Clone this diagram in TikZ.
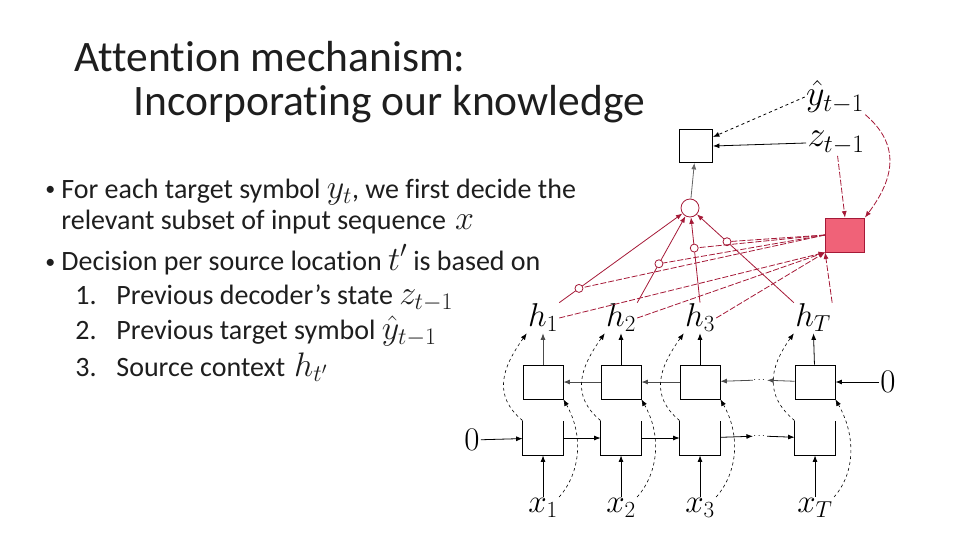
\documentclass[tikz,border=0pt]{standalone}
\usepackage{fix-cm}
\usepackage{amsmath}
\usepackage{fontspec}
\setmainfont{Carlito}[Ligatures = NoCommon]
\usetikzlibrary{arrows.meta}

\definecolor{attnred}{RGB}{165,25,55}
\definecolor{attnfill}{RGB}{240,98,120}
\definecolor{ink}{RGB}{30,30,30}

\newcommand{\inmath}[1]{{\fontsize{34}{34}\selectfont$#1$}}

\begin{document}
\begin{tikzpicture}[
    x = 1pt, y = -1pt,
    >= {Latex[length = 6.5pt, width = 5pt]},
    line width = 0.8pt,
    %
    heading/.style = {anchor = base west, inner sep = 0pt,
      text = ink, font = \fontsize{43.5}{43.5}\selectfont},
    slide/.style = {anchor = base west, inner sep = 0pt,
      text = ink, font = \fontsize{28}{28}\selectfont},
    bulletmark/.style = {anchor = base west, inner sep = 0pt,
      text = ink, font = \fontsize{20}{20}\selectfont},
    %
    sym/.style = {inner sep = 1pt,
      font = \fontsize{33}{33}\selectfont},
    bigsym/.style = {inner sep = 1pt,
      font = \fontsize{36}{36}\selectfont},
    cell/.style = {minimum width = 40pt,
      minimum height = 34pt, inner sep = 0pt},
    gate/.style = {circle, draw = attnred, fill = white,
      minimum size = 8pt, inner sep = 0pt},
    %
    attn/.style = {attnred},
    attndash/.style = {attnred, dash pattern = on 6pt off 2pt},
    recur/.style = {dashed, line width = 0.6pt},
    ]

    \useasboundingbox (0, 0) rectangle (960, 540);

    % title and bullet text
    \node at (74, 72) [heading, name = title1] {Attention mechanism:};
    \node at (133, 116) [heading, name = title2] {Incorporating our knowledge};

    \node at (45, 196) [bulletmark, name = dot1] {\textbullet};
    \node at (61, 198) [slide, name = line1]
    {For each target symbol \inmath{y_t}, we first decide the};
    \node at (61, 229) [slide, name = line2]
    {relevant subset of input sequence\hspace{9pt}\inmath{x}};

    \node at (45, 268) [bulletmark, name = dot2] {\textbullet};
    \node at (61, 270) [slide, name = line3]
    {Decision per source location \inmath{t'}\hspace{6pt}is based on};

    \node at (75, 304) [slide, name = num1] {1.};
    \node at (116, 304) [slide, name = item1]
    {Previous decoder’s state \inmath{z_{t-1}}};
    \node at (75, 339) [slide, name = num2] {2.};
    \node at (116, 339) [slide, name = item2]
    {Previous target symbol \inmath{\hat{y}_{t-1}}};
    \node at (75, 376) [slide, name = num3] {3.};
    \node at (116, 376) [slide, name = item3]
    {Source context\hspace{9pt}\inmath{h_{t'}}};

    % decoder side
    \node at (696, 146)
    [cell, draw, minimum width = 33pt, minimum height = 33pt, name = out] {};
    \node at (690, 208)
    [circle, draw = attnred, minimum size = 18pt, inner sep = 0pt, name = ctx] {};
    \node at (845, 235)
    [cell, draw = attnred, fill = attnfill, minimum width = 39pt, name = score] {};

    \node at (835, 97) [bigsym, name = yprev] {$\hat{y}_{t-1}$};
    \node at (836, 143) [bigsym, name = zprev] {$z_{t-1}$};

    % annotations
    \node at (543, 318) [sym, name = h1] {$h_1$};
    \node at (621, 318) [sym, name = h2] {$h_2$};
    \node at (700, 318) [sym, name = h3] {$h_3$};
    \node at (813, 318) [sym, name = hT] {$h_T$};

    % backward cells
    \node at (543, 382) [cell, draw, name = b1] {};
    \node at (621, 382) [cell, draw, name = b2] {};
    \node at (700, 382) [cell, draw, name = b3] {};
    \node at (815, 382) [cell, draw, name = bT] {};
    \node at (760, 380) [inner sep = 0pt, name = bdots] {$\cdots$};

    % forward cells
    \node at (543, 438) [cell, name = f1] {};
    \node at (621, 438) [cell, name = f2] {};
    \node at (700, 438) [cell, name = f3] {};
    \node at (815, 438) [cell, name = fT] {};
    \node at (760, 436) [inner sep = 0pt, name = fdots] {$\cdots$};

    \draw (f1.north west) |- (f1.south east) -- (f1.north east);
    \draw (f2.north west) |- (f2.south east) -- (f2.north east);
    \draw (f3.north west) |- (f3.south east) -- (f3.north east);
    \draw (fT.north west) |- (fT.south east) -- (fT.north east);

    \node at (543, 508) [sym, name = x1] {$x_1$};
    \node at (621, 508) [sym, name = x2] {$x_2$};
    \node at (700, 508) [sym, name = x3] {$x_3$};
    \node at (815, 508) [sym, name = xT] {$x_T$};

    \node at (472, 440) [sym, name = zeroL] {$0$};
    \node at (888, 382) [sym, name = zeroR] {$0$};

    % forward chain
    \draw [->] (zeroL) -- (f1);
    \draw [->] (f1) -- (f2);
    \draw [->] (f2) -- (f3);
    \draw [->] (f3) -- (fdots);
    \draw [->] (fdots) -- (fT);

    % backward chain
    \draw [->] (zeroR) -- (bT);
    \draw [->, black!70] (bT) -- (bdots);
    \draw [->, black!70] (bdots) -- (b3);
    \draw [->, black!70] (b3) -- (b2);
    \draw [->, black!70] (b2) -- (b1);

    % inputs
    \draw [->] (x1) -- (f1);
    \draw [->] (x2) -- (f2);
    \draw [->] (x3) -- (f3);
    \draw [->] (xT) -- (fT);

    \draw [->, recur] (x1.north east) .. controls +(22, -25) and +(20, 35) .. (b1.south east);
    \draw [->, recur] (x2.north east) .. controls +(22, -25) and +(20, 35) .. (b2.south east);
    \draw [->, recur] (x3.north east) .. controls +(22, -25) and +(20, 35) .. (b3.south east);
    \draw [->, recur] (xT.north east) .. controls +(22, -25) and +(20, 35) .. (bT.south east);

    % annotations from both directions
    \draw [->, black!70] (b1) -- (h1);
    \draw [->] (b2) -- (h2);
    \draw [->] (b3) -- (h3);
    \draw [->] (bT) -- (hT);

    \draw [->, recur] (f1.north west) .. controls +(-30, -25) and +(-25, 35) .. (h1.south west);
    \draw [->, recur] (f2.north west) .. controls +(-30, -25) and +(-25, 35) .. (h2.south west);
    \draw [->, recur] (f3.north west) .. controls +(-30, -25) and +(-25, 35) .. (h3.south west);
    \draw [->, recur] (fT.north west) .. controls +(-30, -25) and +(-25, 35) .. (hT.south west);

    % scores from the annotations
    \draw [->, attndash] (h1.east) -- (score.south west);
    \draw [->, attndash] (h2.east) -- (score.south west);
    \draw [->, attndash] (h3.east) -- (score.south west);
    \draw [->, attndash] (hT.north east) -- (score.south west);

    \draw [->, attndash] (zprev) -- (score.north);
    \draw [->, attndash] (yprev.south east)
    .. controls +(35, 30) and +(30, -40) .. (score.north east);

    % weighted sum
    \draw [->, attn] (h1.north east) to node [pos = 0.16, gate, name = g1] {} (ctx);
    \draw [->, attn] (h2.north east) to node [pos = 0.45, gate, name = g2] {} (ctx);
    \draw [->, attn] (h3.north) to node [pos = 0.64, gate, name = g3] {} (ctx);
    \draw [->, attn] (hT.north west) to node [pos = 0.69, gate, name = gT] {} (ctx);

    \draw [attndash] (score.west) -- (g1);
    \draw [attndash] (score.west) -- (g2);
    \draw [attndash] (score.west) -- (g3);
    \draw [attndash] (score.west) -- (gT);

    % decoder inputs
    \draw [->, black!60] (ctx) -- (out);
    \draw [->] (zprev.west) -- (out.east);
    \draw [->, dashed] (yprev.west) -- ([yshift = 9pt] out.east);

  \end{tikzpicture}
\end{document}
